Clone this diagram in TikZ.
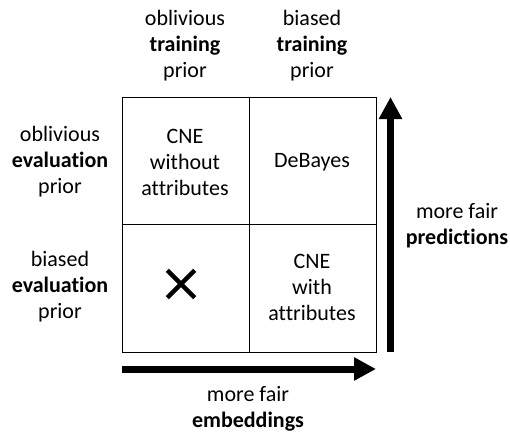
\documentclass[tikz,border=0pt]{standalone}
\usepackage{fontspec}
\setmainfont{Carlito}[Ligatures=NoCommon]
\usetikzlibrary{arrows.meta}
\begin{document}
\begin{tikzpicture}[x=1pt,y=-1pt,
  lbl/.style={align=center,font=\fontsize{22}{26}\selectfont,inner sep=0pt},
  grid/.style={draw=black,line width=1pt},
  bigarrow/.style={line width=7pt,-{Triangle[width=22pt,length=22pt]}}]
\useasboundingbox (0,0) rectangle (510,436);
% grid
\draw[grid] (122,97) rectangle (376,352);
\draw[grid] (249,97) -- (249,352);
\draw[grid] (122,224) -- (376,224);
% column headers
\node[lbl] (h1) at (185,46) {oblivious\\\textbf{training}\\prior};
\node[lbl] (h2) at (312,46) {biased\\\textbf{training}\\prior};
% row headers
\node[lbl] (r1) at (60,162) {oblivious\\\textbf{evaluation}\\prior};
\node[lbl] (r2) at (60,287) {biased\\\textbf{evaluation}\\prior};
% cells
\node[lbl] (c11) at (185,162) {CNE\\without\\attributes};
\node[lbl] (c12) at (312,162) {DeBayes};
\node[lbl] (c22) at (312,287) {CNE\\with\\attributes};
\node[inner sep=0pt,minimum size=27pt] (c21) at (181,284) {};
\draw[line width=4.5pt] (c21.north west) -- (c21.south east);
\draw[line width=4.5pt] (c21.north east) -- (c21.south west);
% arrows
\coordinate (vs) at (390.5,352);
\coordinate (ve) at (390.5,97);
\coordinate (hs) at (122,369);
\coordinate (he) at (376,369);
\draw[bigarrow] (vs) -- (ve);
\draw[bigarrow] (hs) -- (he);
\node[lbl] (pred) at (457,226) {more fair\\\textbf{predictions}};
\node[lbl] (emb) at (248,409) {more fair\\\textbf{embeddings}};
\end{tikzpicture}
\end{document}
